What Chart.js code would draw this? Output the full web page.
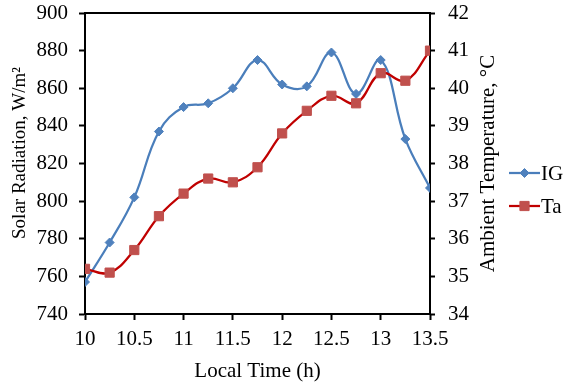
<!DOCTYPE html>
<html>
<head>
<meta charset="utf-8">
<script src="https://cdn.jsdelivr.net/npm/chart.js@4/dist/chart.umd.min.js"></script>
<style>
  html, body { margin: 0; padding: 0; background: #fff; }
  #wrap { width: 572px; height: 384px; }
</style>
</head>
<body>
<div id="wrap"><canvas id="c" width="572" height="384"></canvas></div>
<script>
// Local time of day (h)
const localTime = [10, 10.25, 10.5, 10.75, 11, 11.25, 11.5, 11.75, 12, 12.25, 12.5, 12.75, 13, 13.25, 13.5];
// Global solar radiation, W/m²
const irradiance = [757, 778, 802, 837, 850, 852, 860, 875, 862, 861, 879, 857, 875, 833, 807];
// Ambient temperature, °C
const ambientTemp = [35.2, 35.1, 35.7, 36.6, 37.2, 37.6, 37.5, 37.9, 38.8, 39.4, 39.8, 39.6, 40.4, 40.2, 41.0];
const seriesNames = ['IG', 'Ta'];

const FONT = 'Liberation Serif, Times New Roman, serif';
const FS = 21;

const toPoints = (ys) => localTime.map((t, i) => ({ x: t, y: ys[i] }));

// Frame line on top of the plot area, rotated axis titles and a line-and-marker legend
const decorPlugin = {
  id: 'decor',
  afterDatasetsDraw(chart) {
    const { ctx, chartArea: a } = chart;
    ctx.save();
    ctx.strokeStyle = '#000';
    ctx.lineWidth = 2;
    ctx.beginPath();
    ctx.moveTo(a.left - 1, a.top);
    ctx.lineTo(a.right + 1, a.top);
    ctx.stroke();
    ctx.restore();
  },
  afterDraw(chart) {
    const { ctx, chartArea: a } = chart;
    ctx.save();
    ctx.fillStyle = '#000';
    ctx.textAlign = 'center';
    ctx.textBaseline = 'middle';

    ctx.save();
    ctx.font = '19px ' + FONT;
    ctx.translate(20, 153);
    ctx.rotate(-Math.PI / 2);
    ctx.fillText('Solar Radiation, W/m²', 0, 0);
    ctx.restore();

    ctx.font = FS + 'px ' + FONT;
    ctx.save();
    ctx.translate(488, (a.top + a.bottom) / 2);
    ctx.rotate(-Math.PI / 2);
    ctx.fillText('Ambient Temperature, °C', 0, 0);
    ctx.restore();

    const x0 = 509, x1 = 540, ys = [173, 206];
    chart.data.datasets.forEach((ds, i) => {
      const y = ys[i];
      ctx.strokeStyle = ds.borderColor;
      ctx.lineWidth = ds.borderWidth;
      ctx.beginPath();
      ctx.moveTo(x0, y);
      ctx.lineTo(x1, y);
      ctx.stroke();
      ctx.fillStyle = ds.pointBackgroundColor;
      ctx.strokeStyle = ds.pointBorderColor;
      ctx.lineWidth = 1;
      Chart.helpers.drawPoint(ctx, {
        pointStyle: ds.pointStyle,
        radius: ds.pointRadius,
        borderWidth: 1
      }, (x0 + x1) / 2, y);
      ctx.fillStyle = '#000';
      ctx.textAlign = 'left';
      ctx.fillText(ds.label, x1 + 1, y + 1);
    });
    ctx.restore();
  }
};

const vFit = (w) => (s) => { s.width = w; s.paddingTop = 0; s.paddingBottom = 0; };

new Chart(document.getElementById('c'), {
  type: 'line',
  data: {
    datasets: [
      {
        label: seriesNames[0],
        data: toPoints(irradiance),
        yAxisID: 'y',
        borderColor: '#4a7ebb',
        borderWidth: 2.25,
        tension: 0.4,
        pointStyle: 'rectRot',
        pointRadius: 4.5,
        pointBackgroundColor: '#4f81bd',
        pointBorderColor: '#4f81bd',
        pointBorderWidth: 1,
        order: 2
      },
      {
        label: seriesNames[1],
        data: toPoints(ambientTemp),
        yAxisID: 'y1',
        borderColor: '#c00000',
        borderWidth: 2.25,
        tension: 0.4,
        pointStyle: 'rect',
        pointRadius: 6.5,
        pointBackgroundColor: '#c0504d',
        pointBorderColor: '#c0504d',
        pointBorderWidth: 1,
        order: 1
      }
    ]
  },
  options: {
    responsive: false,
    animation: false,
    layout: { padding: { left: 0, right: 0, top: 13, bottom: 0 } },
    plugins: { legend: { display: false }, tooltip: { enabled: false } },
    scales: {
      x: {
        type: 'linear',
        min: 10, max: 13.5,
        afterFit(s) { s.height = 70; s.paddingLeft = 0; s.paddingRight = 0; },
        ticks: {
          stepSize: 0.5, color: '#000', font: { family: FONT, size: FS }, padding: 7, maxRotation: 0,
          callback: (v) => String(v)
        },
        grid: { drawOnChartArea: false, tickLength: 6, tickColor: '#000', tickWidth: 2 },
        border: { color: '#000', width: 2 },
        title: { display: true, text: 'Local Time (h)', color: '#000', font: { family: FONT, size: FS }, padding: { top: 2, bottom: 0 } }
      },
      y: {
        position: 'left',
        min: 740, max: 900,
        afterFit: vFit(85),
        ticks: { stepSize: 20, color: '#000', font: { family: FONT, size: FS }, padding: 11 },
        grid: { drawOnChartArea: false, tickLength: 6, tickColor: '#000', tickWidth: 2 },
        border: { color: '#000', width: 2 },
        title: { display: false }
      },
      y1: {
        position: 'right',
        min: 34, max: 42,
        afterFit: vFit(142),
        ticks: { stepSize: 1, color: '#000', font: { family: FONT, size: FS }, padding: 13 },
        grid: { drawOnChartArea: false, tickLength: 5, tickColor: '#000', tickWidth: 2 },
        border: { color: '#000', width: 2 },
        title: { display: false }
      }
    }
  },
  plugins: [decorPlugin]
});
</script>
</body>
</html>
